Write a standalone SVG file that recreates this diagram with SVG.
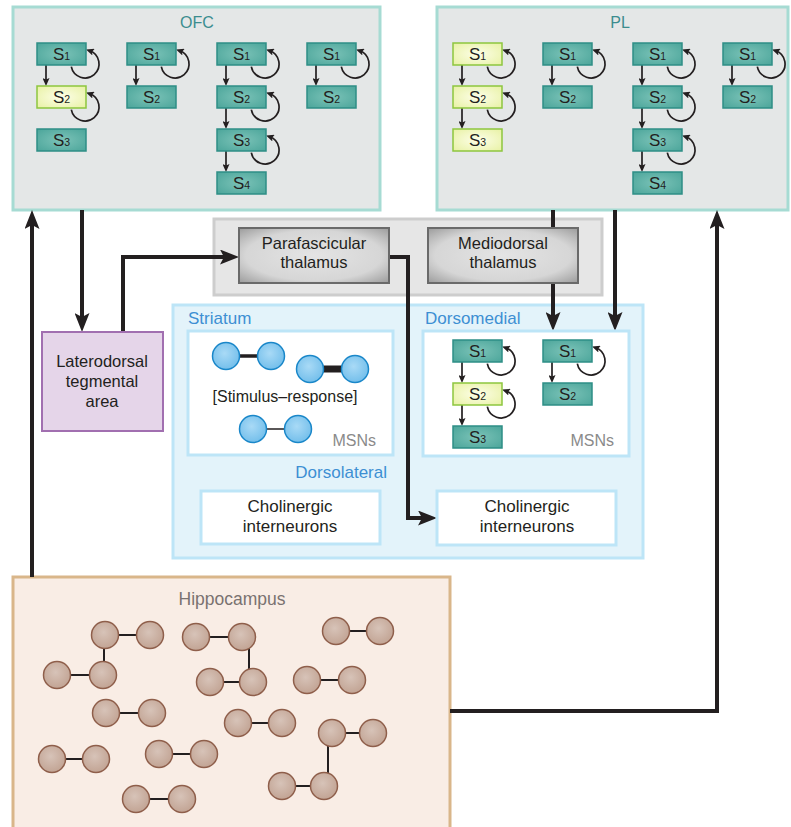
<svg xmlns="http://www.w3.org/2000/svg" width="791" height="827" viewBox="0 0 791 827">
<defs>
<style>
.t{font-family:"Liberation Sans",Arial,sans-serif;fill:#231f20}
.st{font-family:"Liberation Sans",Arial,sans-serif;font-size:17px;fill:#231f20;text-anchor:middle}
.sub{font-size:10.5px}
.sb{fill:url(#gT);stroke:#2e8e86;stroke-width:1.5}
.sy{fill:url(#gY);stroke:#8dc63f;stroke-width:1.5}
.lp{fill:none;stroke:#231f20;stroke-width:1.7;marker-end:url(#ms)}
.cn{fill:none;stroke:#231f20;stroke-width:4;stroke-linejoin:miter;marker-end:url(#mb)}
.bn{fill:url(#gB);stroke:#1a87c9;stroke-width:1.5}
.hn{fill:url(#gH);stroke:#8f5f4b;stroke-width:1.5}
.hl{stroke:#231f20;stroke-width:2}
.gb{fill:url(#gG);stroke:#6a6a6a;stroke-width:2}
.wb{fill:#ffffff;stroke:#bde5f7;stroke-width:3}
.blue{fill:#3d8fd3}
</style>
<radialGradient id="gT" cx="50%" cy="50%" r="65%"><stop offset="0" stop-color="#7cc3b8"/><stop offset="1" stop-color="#4ea79c"/></radialGradient>
<radialGradient id="gY" cx="50%" cy="50%" r="65%"><stop offset="0" stop-color="#fdfee8"/><stop offset="1" stop-color="#e9f2a8"/></radialGradient>
<radialGradient id="gG" cx="50%" cy="50%" r="70%"><stop offset="0" stop-color="#e4e4e4"/><stop offset="0.65" stop-color="#d6d6d6"/><stop offset="1" stop-color="#9c9c9c"/></radialGradient>
<radialGradient id="gB" cx="45%" cy="40%" r="60%"><stop offset="0" stop-color="#a9daf6"/><stop offset="1" stop-color="#74bfeb"/></radialGradient>
<radialGradient id="gH" cx="45%" cy="40%" r="60%"><stop offset="0" stop-color="#d7c3b8"/><stop offset="1" stop-color="#c2a494"/></radialGradient>
<marker id="mb" markerUnits="userSpaceOnUse" viewBox="0 0 19 15" markerWidth="19" markerHeight="15" refX="7" refY="7.5" orient="auto"><path d="M0,0 L19,7.5 L0,15 L4,7.5 Z" fill="#231f20"/></marker>
<marker id="ms" markerUnits="userSpaceOnUse" viewBox="0 0 8 7" markerWidth="8" markerHeight="7" refX="4" refY="3.5" orient="auto"><path d="M0,0 L8,3.5 L0,7 L1.5,3.5 Z" fill="#231f20"/></marker>
</defs>

<!-- containers -->
<g id="OFC">
<rect x="13" y="7" width="367" height="203" fill="#e4e7e7" stroke="#a6dbd3" stroke-width="3"/>
<text class="t" x="197" y="28" font-size="16" text-anchor="middle" style="fill:#3b8d8f">OFC</text>
</g>
<g id="PL">
<rect x="437" y="7" width="351" height="203" fill="#e4e7e7" stroke="#a6dbd3" stroke-width="3"/>
<text class="t" x="620" y="28" font-size="16" text-anchor="middle" style="fill:#3b8d8f">PL</text>
</g>
<g id="thalamus">
<rect x="214" y="219" width="388" height="76" fill="#e6e6e6" stroke="#cdcdcd" stroke-width="3"/>
</g>
<g id="striatum">
<rect x="173" y="305" width="470" height="253" fill="#e3f3fa" stroke="#bde5f7" stroke-width="3"/>
<text class="t blue" x="188" y="324" font-size="17">Striatum</text>
<text class="t blue" x="425" y="324" font-size="17">Dorsomedial</text>
<text class="t blue" x="387" y="478" font-size="17" text-anchor="end">Dorsolateral</text>
</g>
<g id="hippocampus">
<rect x="13" y="577" width="437" height="262" fill="#f9ede5" stroke="#d9b68a" stroke-width="3"/>
<text class="t" x="232" y="605" font-size="17.5" text-anchor="middle" style="fill:#7a7270">Hippocampus</text>
</g>

<!-- connectors -->
<g id="connectors">
<path class="cn" d="M82,210 V320"/>
<path class="cn" d="M123,332 V257 H227"/>
<path class="cn" d="M389,257 H408 V518 H425"/>
<path class="cn" d="M553,210 V319"/>
<path class="cn" d="M615,210 V319"/>
<path class="cn" d="M32,577 V222"/>
<path class="cn" d="M450,711 H717 V222"/>
</g>

<!-- thalamus nodes -->
<g id="parafascicular">
<rect class="gb" x="239" y="228" width="150" height="55"/>
<text class="t" x="314" y="249" font-size="16.5" text-anchor="middle">Parafascicular</text>
<text class="t" x="314" y="268" font-size="16.5" text-anchor="middle">thalamus</text>
</g>
<g id="mediodorsal">
<rect class="gb" x="428" y="228" width="150" height="55"/>
<text class="t" x="503" y="249" font-size="16.5" text-anchor="middle">Mediodorsal</text>
<text class="t" x="503" y="268" font-size="16.5" text-anchor="middle">thalamus</text>
</g>
<g id="LTA">
<rect x="42" y="332" width="121" height="99" fill="#e5d5e9" stroke="#a16fb0" stroke-width="2"/>
<text class="t" x="102" y="367" font-size="16.5" text-anchor="middle">Laterodorsal</text>
<text class="t" x="102" y="387" font-size="16.5" text-anchor="middle">tegmental</text>
<text class="t" x="102" y="407" font-size="16.5" text-anchor="middle">area</text>
</g>

<!-- striatum inner boxes -->
<g id="dorsolateral-msn">
<rect class="wb" x="188" y="331" width="205" height="124"/>
<line x1="226" y1="356" x2="271" y2="356" stroke="#231f20" stroke-width="3.5"/>
<circle class="bn" cx="226" cy="356" r="13.5"/>
<circle class="bn" cx="271" cy="356" r="13.5"/>
<line x1="310" y1="369" x2="355" y2="369" stroke="#231f20" stroke-width="7"/>
<circle class="bn" cx="310" cy="369" r="13.5"/>
<circle class="bn" cx="355" cy="369" r="13.5"/>
<text class="t" x="285" y="402" font-size="16" text-anchor="middle">[Stimulus–response]</text>
<line x1="253" y1="429" x2="298" y2="429" stroke="#231f20" stroke-width="1.5"/>
<circle class="bn" cx="253" cy="429" r="13.5"/>
<circle class="bn" cx="298" cy="429" r="13.5"/>
<text class="t" x="376" y="446" font-size="16" text-anchor="end" style="fill:#8a8a8a">MSNs</text>
</g>
<g id="dorsomedial-msn">
<rect class="wb" x="423" y="331" width="206" height="125"/>
<text class="t" x="614" y="446" font-size="16" text-anchor="end" style="fill:#8a8a8a">MSNs</text>
<path class="lp" d="M462,362 V379"/>
<path class="lp" d="M462,405 V422"/>
<path class="lp" d="M552,362 V379"/>
<path class="lp" d="M487.3,363.7 A14 14 0 1 0 505.8,347.8"/>
<path class="lp" d="M487.3,406.7 A14 14 0 1 0 505.8,390.8"/>
<path class="lp" d="M577.3,363.7 A14 14 0 1 0 595.8,347.8"/>
</g>
<g id="dm-c1-s1"><rect class="sb" x="453" y="340" width="49" height="22"/><text class="st" x="477.5" y="357">S<tspan class="sub">1</tspan></text></g>
<g id="dm-c1-s2"><rect class="sy" x="453" y="383" width="49" height="22"/><text class="st" x="477.5" y="400">S<tspan class="sub">2</tspan></text></g>
<g id="dm-c1-s3"><rect class="sb" x="453" y="426" width="49" height="22"/><text class="st" x="477.5" y="443">S<tspan class="sub">3</tspan></text></g>
<g id="dm-c2-s1"><rect class="sb" x="543" y="340" width="49" height="22"/><text class="st" x="567.5" y="357">S<tspan class="sub">1</tspan></text></g>
<g id="dm-c2-s2"><rect class="sb" x="543" y="383" width="49" height="22"/><text class="st" x="567.5" y="400">S<tspan class="sub">2</tspan></text></g>

<g id="cholinergic-dl">
<rect class="wb" x="201" y="491" width="179" height="53"/>
<text class="t" x="290" y="512" font-size="17" text-anchor="middle">Cholinergic</text>
<text class="t" x="290" y="532" font-size="17" text-anchor="middle">interneurons</text>
</g>
<g id="cholinergic-dm">
<rect class="wb" x="437" y="491" width="179" height="54"/>
<text class="t" x="527" y="512" font-size="17" text-anchor="middle">Cholinergic</text>
<text class="t" x="527" y="532" font-size="17" text-anchor="middle">interneurons</text>
</g>

<!-- OFC sequences -->
<g id="ofc-links">
<path class="lp" d="M46,65 V82"/>
<path class="lp" d="M136,65 V82"/>
<path class="lp" d="M226,65 V82"/>
<path class="lp" d="M226,108 V125"/>
<path class="lp" d="M226,151 V168"/>
<path class="lp" d="M316,65 V82"/>
<path class="lp" d="M71.3,66.7 A14 14 0 1 0 89.8,50.8"/>
<path class="lp" d="M71.3,109.7 A14 14 0 1 0 89.8,93.8"/>
<path class="lp" d="M161.3,66.7 A14 14 0 1 0 179.8,50.8"/>
<path class="lp" d="M251.3,66.7 A14 14 0 1 0 269.8,50.8"/>
<path class="lp" d="M251.3,109.7 A14 14 0 1 0 269.8,93.8"/>
<path class="lp" d="M251.3,152.7 A14 14 0 1 0 269.8,136.8"/>
<path class="lp" d="M341.3,66.7 A14 14 0 1 0 359.8,50.8"/>
</g>
<g id="ofc-c1-s1"><rect class="sb" x="37" y="43" width="49" height="22"/><text class="st" x="61.5" y="60">S<tspan class="sub">1</tspan></text></g>
<g id="ofc-c1-s2"><rect class="sy" x="37" y="86" width="49" height="22"/><text class="st" x="61.5" y="103">S<tspan class="sub">2</tspan></text></g>
<g id="ofc-c1-s3"><rect class="sb" x="37" y="129" width="49" height="22"/><text class="st" x="61.5" y="146">S<tspan class="sub">3</tspan></text></g>
<g id="ofc-c2-s1"><rect class="sb" x="127" y="43" width="49" height="22"/><text class="st" x="151.5" y="60">S<tspan class="sub">1</tspan></text></g>
<g id="ofc-c2-s2"><rect class="sb" x="127" y="86" width="49" height="22"/><text class="st" x="151.5" y="103">S<tspan class="sub">2</tspan></text></g>
<g id="ofc-c3-s1"><rect class="sb" x="217" y="43" width="49" height="22"/><text class="st" x="241.5" y="60">S<tspan class="sub">1</tspan></text></g>
<g id="ofc-c3-s2"><rect class="sb" x="217" y="86" width="49" height="22"/><text class="st" x="241.5" y="103">S<tspan class="sub">2</tspan></text></g>
<g id="ofc-c3-s3"><rect class="sb" x="217" y="129" width="49" height="22"/><text class="st" x="241.5" y="146">S<tspan class="sub">3</tspan></text></g>
<g id="ofc-c3-s4"><rect class="sb" x="217" y="172" width="49" height="22"/><text class="st" x="241.5" y="189">S<tspan class="sub">4</tspan></text></g>
<g id="ofc-c4-s1"><rect class="sb" x="307" y="43" width="49" height="22"/><text class="st" x="331.5" y="60">S<tspan class="sub">1</tspan></text></g>
<g id="ofc-c4-s2"><rect class="sb" x="307" y="86" width="49" height="22"/><text class="st" x="331.5" y="103">S<tspan class="sub">2</tspan></text></g>

<!-- PL sequences -->
<g id="pl-links">
<path class="lp" d="M462,65 V82"/>
<path class="lp" d="M462,108 V125"/>
<path class="lp" d="M552,65 V82"/>
<path class="lp" d="M642,65 V82"/>
<path class="lp" d="M642,108 V125"/>
<path class="lp" d="M642,151 V168"/>
<path class="lp" d="M732,65 V82"/>
<path class="lp" d="M487.3,66.7 A14 14 0 1 0 505.8,50.8"/>
<path class="lp" d="M487.3,109.7 A14 14 0 1 0 505.8,93.8"/>
<path class="lp" d="M577.3,66.7 A14 14 0 1 0 595.8,50.8"/>
<path class="lp" d="M667.3,66.7 A14 14 0 1 0 685.8,50.8"/>
<path class="lp" d="M667.3,109.7 A14 14 0 1 0 685.8,93.8"/>
<path class="lp" d="M667.3,152.7 A14 14 0 1 0 685.8,136.8"/>
<path class="lp" d="M757.3,66.7 A14 14 0 1 0 775.8,50.8"/>
</g>
<g id="pl-c1-s1"><rect class="sy" x="453" y="43" width="49" height="22"/><text class="st" x="477.5" y="60">S<tspan class="sub">1</tspan></text></g>
<g id="pl-c1-s2"><rect class="sy" x="453" y="86" width="49" height="22"/><text class="st" x="477.5" y="103">S<tspan class="sub">2</tspan></text></g>
<g id="pl-c1-s3"><rect class="sy" x="453" y="129" width="49" height="22"/><text class="st" x="477.5" y="146">S<tspan class="sub">3</tspan></text></g>
<g id="pl-c2-s1"><rect class="sb" x="543" y="43" width="49" height="22"/><text class="st" x="567.5" y="60">S<tspan class="sub">1</tspan></text></g>
<g id="pl-c2-s2"><rect class="sb" x="543" y="86" width="49" height="22"/><text class="st" x="567.5" y="103">S<tspan class="sub">2</tspan></text></g>
<g id="pl-c3-s1"><rect class="sb" x="633" y="43" width="49" height="22"/><text class="st" x="657.5" y="60">S<tspan class="sub">1</tspan></text></g>
<g id="pl-c3-s2"><rect class="sb" x="633" y="86" width="49" height="22"/><text class="st" x="657.5" y="103">S<tspan class="sub">2</tspan></text></g>
<g id="pl-c3-s3"><rect class="sb" x="633" y="129" width="49" height="22"/><text class="st" x="657.5" y="146">S<tspan class="sub">3</tspan></text></g>
<g id="pl-c3-s4"><rect class="sb" x="633" y="172" width="49" height="22"/><text class="st" x="657.5" y="189">S<tspan class="sub">4</tspan></text></g>
<g id="pl-c4-s1"><rect class="sb" x="723" y="43" width="49" height="22"/><text class="st" x="747.5" y="60">S<tspan class="sub">1</tspan></text></g>
<g id="pl-c4-s2"><rect class="sb" x="723" y="86" width="49" height="22"/><text class="st" x="747.5" y="103">S<tspan class="sub">2</tspan></text></g>

<!-- hippocampal ensembles -->
<g id="hippo-neurons">
<line class="hl" x1="105" y1="635" x2="150" y2="635"/>
<line class="hl" x1="104" y1="635" x2="104" y2="675"/>
<line class="hl" x1="57" y1="675" x2="103" y2="675"/>
<circle class="hn" cx="105" cy="635" r="13.5"/>
<circle class="hn" cx="150" cy="635" r="13.5"/>
<circle class="hn" cx="103" cy="675" r="13.5"/>
<circle class="hn" cx="57" cy="675" r="13.5"/>
<line class="hl" x1="196" y1="637" x2="242" y2="637"/>
<line class="hl" x1="249" y1="637" x2="249" y2="682"/>
<line class="hl" x1="210" y1="682" x2="253" y2="682"/>
<circle class="hn" cx="196" cy="637" r="13.5"/>
<circle class="hn" cx="242" cy="637" r="13.5"/>
<circle class="hn" cx="210" cy="682" r="13.5"/>
<circle class="hn" cx="253" cy="682" r="13.5"/>
<line class="hl" x1="336" y1="631" x2="380" y2="631"/>
<circle class="hn" cx="336" cy="631" r="13.5"/>
<circle class="hn" cx="380" cy="631" r="13.5"/>
<line class="hl" x1="307" y1="680" x2="352" y2="680"/>
<circle class="hn" cx="307" cy="680" r="13.5"/>
<circle class="hn" cx="352" cy="680" r="13.5"/>
<line class="hl" x1="106" y1="713" x2="152" y2="713"/>
<circle class="hn" cx="106" cy="713" r="13.5"/>
<circle class="hn" cx="152" cy="713" r="13.5"/>
<line class="hl" x1="238" y1="723" x2="282" y2="723"/>
<circle class="hn" cx="238" cy="723" r="13.5"/>
<circle class="hn" cx="282" cy="723" r="13.5"/>
<line class="hl" x1="332" y1="733" x2="373" y2="733"/>
<line class="hl" x1="328" y1="733" x2="328" y2="787"/>
<line class="hl" x1="282" y1="786" x2="324" y2="786"/>
<circle class="hn" cx="332" cy="733" r="13.5"/>
<circle class="hn" cx="373" cy="733" r="13.5"/>
<circle class="hn" cx="282" cy="786" r="13.5"/>
<circle class="hn" cx="324" cy="786" r="13.5"/>
<line class="hl" x1="52" y1="759" x2="96" y2="759"/>
<circle class="hn" cx="52" cy="759" r="13.5"/>
<circle class="hn" cx="96" cy="759" r="13.5"/>
<line class="hl" x1="159" y1="754" x2="204" y2="754"/>
<circle class="hn" cx="159" cy="754" r="13.5"/>
<circle class="hn" cx="204" cy="754" r="13.5"/>
<line class="hl" x1="136" y1="799" x2="182" y2="799"/>
<circle class="hn" cx="136" cy="799" r="13.5"/>
<circle class="hn" cx="182" cy="799" r="13.5"/>
</g>
</svg>
